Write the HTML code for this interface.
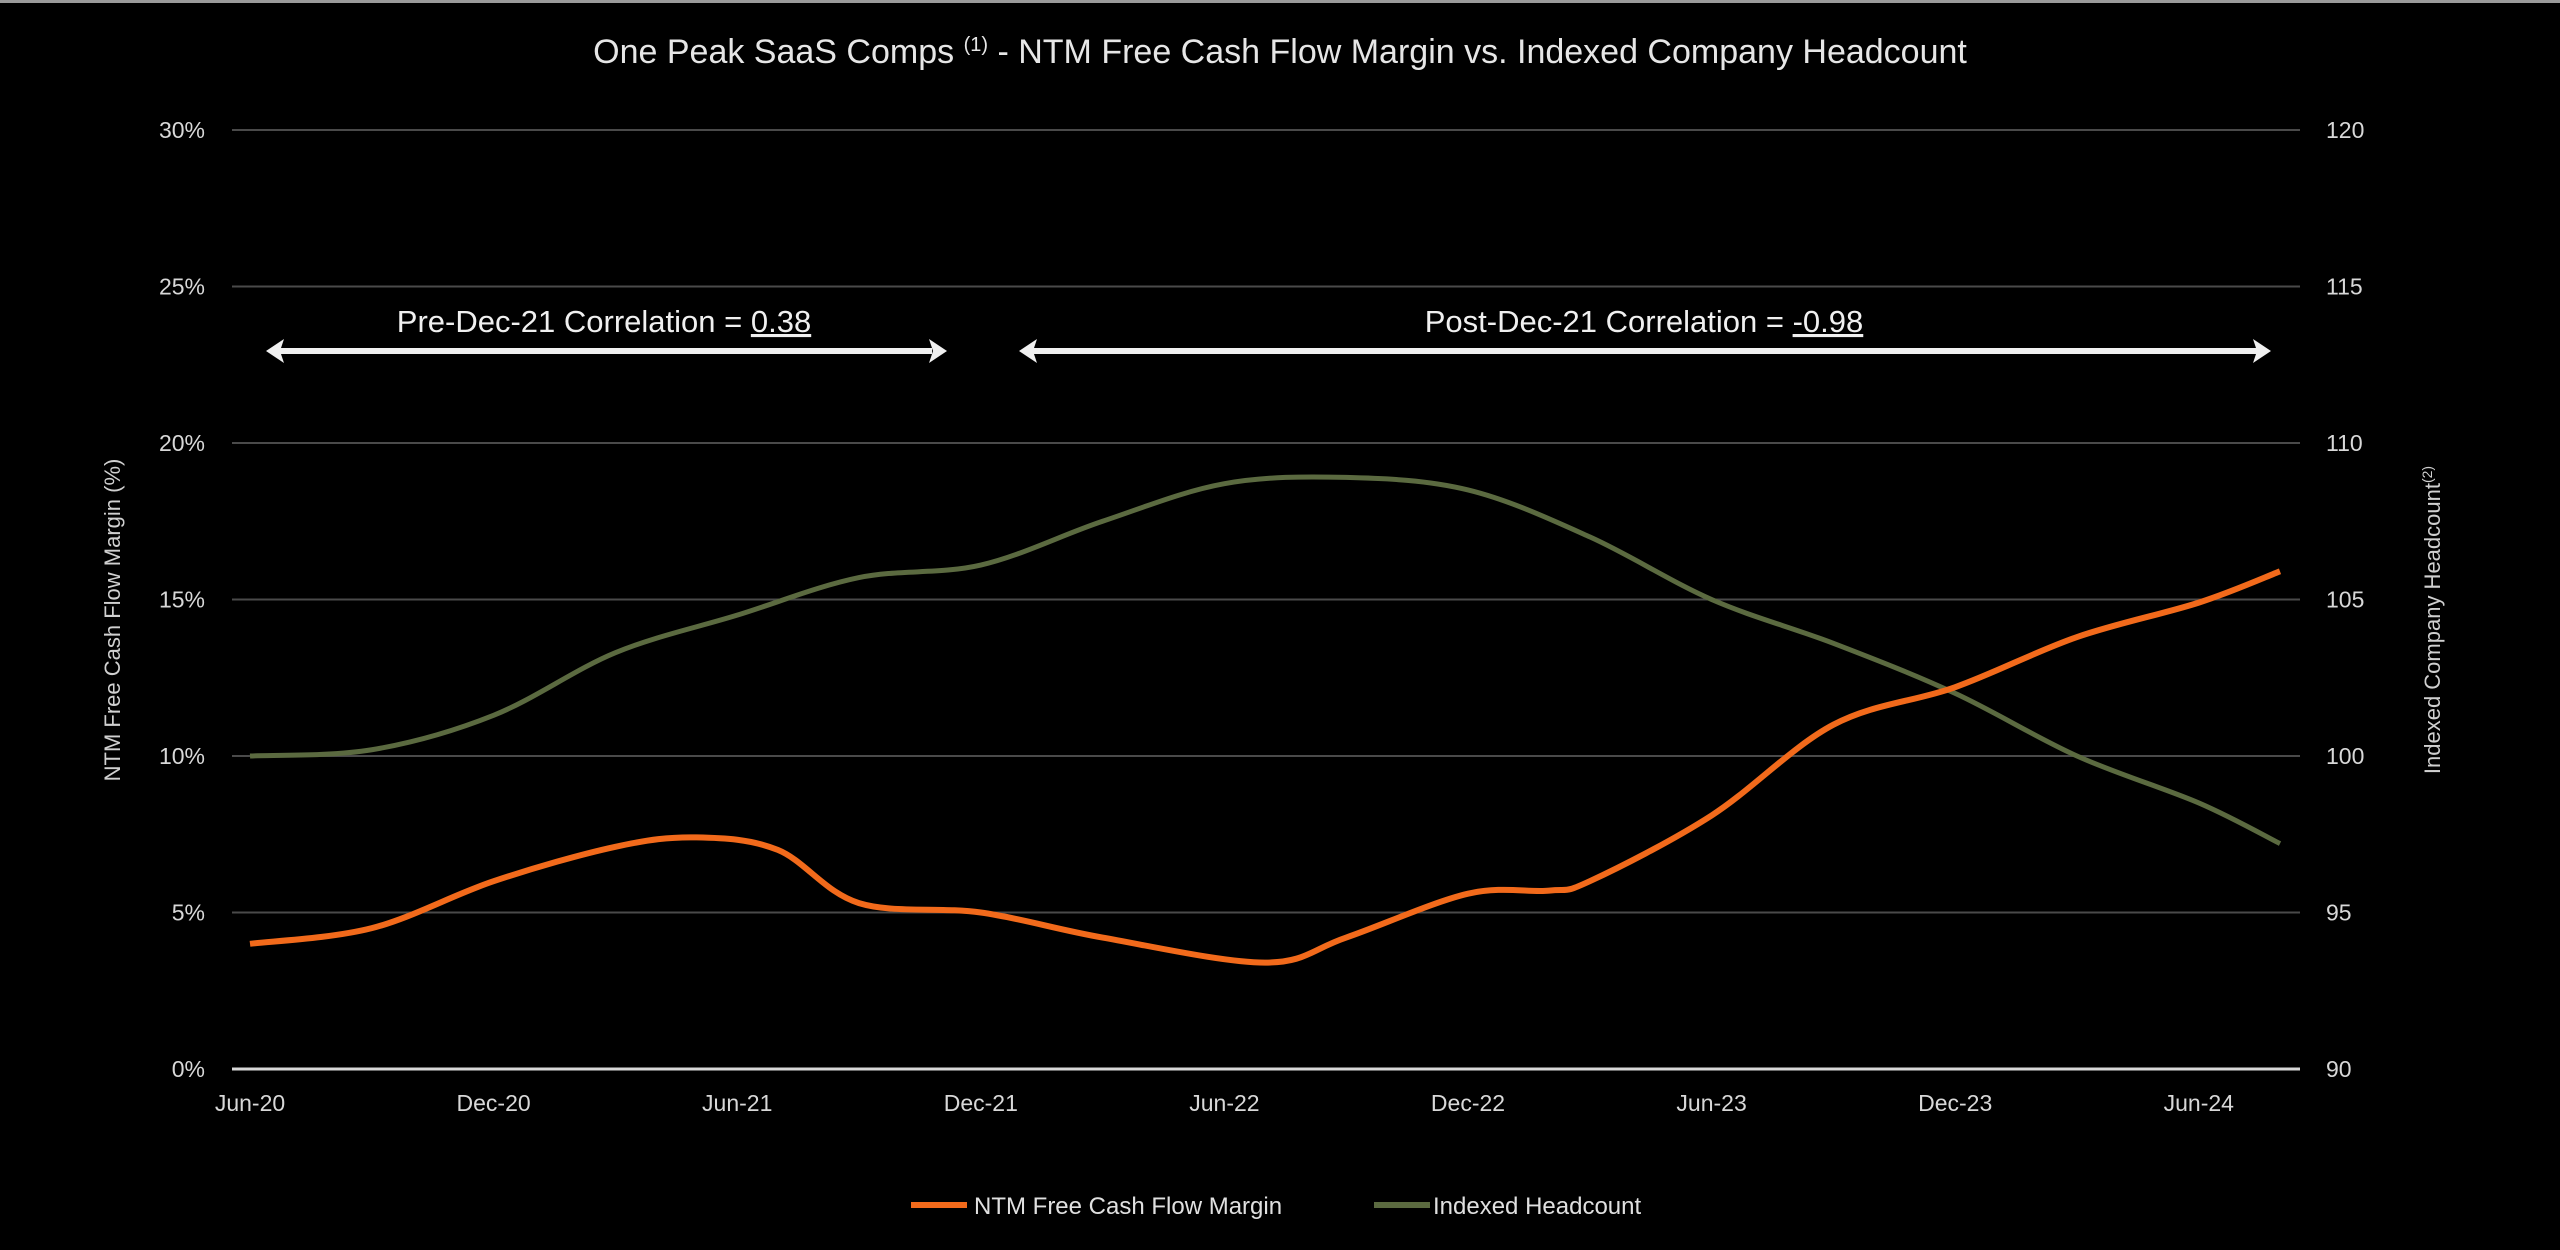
<!DOCTYPE html>
<html><head><meta charset="utf-8"><style>
html,body{margin:0;padding:0;background:#000;}
svg{display:block;font-family:"Liberation Sans",sans-serif;}
</style></head><body>
<svg id="chart" width="2560" height="1250" viewBox="0 0 2560 1250">
<rect x="0" y="0" width="2560" height="1250" fill="#000"/>
<rect x="0" y="0" width="2560" height="3" fill="#9a9a9a"/>
<text x="1280" y="63" text-anchor="middle" fill="#e6e6e6" font-size="34">One Peak SaaS Comps <tspan font-size="20" dy="-12">(1)</tspan><tspan dy="12"> - NTM Free Cash Flow Margin vs. Indexed Company Headcount</tspan></text>
<g id="grid"></g>
<g id="ticks"></g>
<text transform="translate(120,620) rotate(-90)" text-anchor="middle" fill="#d0d0d0" font-size="22">NTM Free Cash Flow Margin (%)</text>
<text transform="translate(2440,620) rotate(-90)" text-anchor="middle" fill="#d0d0d0" font-size="22">Indexed Company Headcount<tspan font-size="14" dy="-8">(2)</tspan></text>
<g>
<text x="604" y="332" text-anchor="middle" fill="#f0f0f0" font-size="31">Pre-Dec-21 Correlation = <tspan text-decoration="underline">0.38</tspan></text>
<line x1="280" y1="351" x2="932" y2="351" stroke="#f0f0f0" stroke-width="6"/>
<polygon points="266,351 284,339 280,351 284,363" fill="#f0f0f0"/>
<polygon points="947,351 929,339 933,351 929,363" fill="#f0f0f0"/>
</g>
<g>
<text x="1644" y="332" text-anchor="middle" fill="#f0f0f0" font-size="31">Post-Dec-21 Correlation = <tspan text-decoration="underline">-0.98</tspan></text>
<line x1="1033" y1="351" x2="2257" y2="351" stroke="#f0f0f0" stroke-width="6"/>
<polygon points="1019,351 1037,339 1033,351 1037,363" fill="#f0f0f0"/>
<polygon points="2271,351 2253,339 2257,351 2253,363" fill="#f0f0f0"/>
</g>
<path id="hcLine" fill="none" stroke="#5b6a40" stroke-width="5"/>
<path id="fcfLine" fill="none" stroke="#f26a1b" stroke-width="6"/>
<g>
<line x1="911" y1="1205" x2="967" y2="1205" stroke="#f26a1b" stroke-width="6"/>
<text x="974" y="1214" fill="#e0e0e0" font-size="24">NTM Free Cash Flow Margin</text>
<line x1="1374" y1="1205" x2="1430" y2="1205" stroke="#5b6a40" stroke-width="6"/>
<text x="1433" y="1214" fill="#e0e0e0" font-size="24">Indexed Headcount</text>
</g>
</svg>
<script>
const xTickLabels = ["Jun-20","Dec-20","Jun-21","Dec-21","Jun-22","Dec-22","Jun-23","Dec-23","Jun-24"];
const leftTicks = [0,5,10,15,20,25,30];
const rightTicks = [90,95,100,105,110,115,120];
const months = [0,3,6,9,11,13,15,18,21,25,27,30,32,33,36,39,42,45,48,50];
const fcfValues = [4.0,4.5,6.0,7.1,7.4,7.0,5.3,5.0,4.2,3.4,4.2,5.6,5.7,6.0,8.1,11.0,12.2,13.8,14.9,15.9];
const hcMonths = [0,3,6,9,12,15,18,21,24,27,30,33,36,39,42,45,48,50];
const hcValues = [100,100.2,101.3,103.3,104.5,105.7,106.1,107.5,108.7,108.9,108.5,107.0,105.0,103.6,102.0,100.0,98.5,97.2];

const X0 = 250, DX = 40.6, XL = 232, XR = 2300, YB = 1069, YT = 130;
const xs = m => X0 + m * DX;
const yL = v => YB - (v - 0) / 30 * (YB - YT);
const yR = v => YB - (v - 90) / 30 * (YB - YT);
const NS = "http://www.w3.org/2000/svg";
const grid = document.getElementById('grid');
const ticks = document.getElementById('ticks');
leftTicks.forEach((t, i) => {
  const l = document.createElementNS(NS, 'line');
  l.setAttribute('x1', XL); l.setAttribute('x2', XR);
  l.setAttribute('y1', yL(t)); l.setAttribute('y2', yL(t));
  l.setAttribute('stroke', i === 0 ? '#d8d8d8' : '#4a4a4a');
  l.setAttribute('stroke-width', i === 0 ? 3 : 2);
  
  
  grid.appendChild(l);
  const tx = document.createElementNS(NS, 'text');
  tx.setAttribute('x', 205); tx.setAttribute('y', yL(t) + 8);
  tx.setAttribute('text-anchor', 'end'); tx.setAttribute('fill', '#d8d8d8'); tx.setAttribute('font-size', '23');
  tx.textContent = t + '%';
  
  
  ticks.appendChild(tx);
});
rightTicks.forEach(t => {
  const tx = document.createElementNS(NS, 'text');
  tx.setAttribute('x', 2326); tx.setAttribute('y', yR(t) + 8);
  tx.setAttribute('fill', '#d8d8d8'); tx.setAttribute('font-size', '23');
  tx.textContent = t;
  
  
  ticks.appendChild(tx);
});
xTickLabels.forEach((t, i) => {
  const tx = document.createElementNS(NS, 'text');
  tx.setAttribute('x', xs(i * 6)); tx.setAttribute('y', 1111);
  tx.setAttribute('text-anchor', 'middle'); tx.setAttribute('fill', '#d8d8d8'); tx.setAttribute('font-size', '23');
  tx.textContent = t;
  
  
  ticks.appendChild(tx);
});
function smooth(pts) {
  let d = 'M' + pts[0][0] + ',' + pts[0][1];
  for (let i = 0; i < pts.length - 1; i++) {
    const p0 = pts[Math.max(0, i - 1)], p1 = pts[i], p2 = pts[i + 1], p3 = pts[Math.min(pts.length - 1, i + 2)];
    const c1x = p1[0] + (p2[0] - p0[0]) / 6, c1y = p1[1] + (p2[1] - p0[1]) / 6;
    const c2x = p2[0] - (p3[0] - p1[0]) / 6, c2y = p2[1] - (p3[1] - p1[1]) / 6;
    d += ' C' + c1x + ',' + c1y + ' ' + c2x + ',' + c2y + ' ' + p2[0] + ',' + p2[1];
  }
  return d;
}
document.getElementById('fcfLine').setAttribute('d', smooth(months.map((m, i) => [xs(m), yL(fcfValues[i])])));
document.getElementById('hcLine').setAttribute('d', smooth(hcMonths.map((m, i) => [xs(m), yR(hcValues[i])])));
</script>
</body></html>
